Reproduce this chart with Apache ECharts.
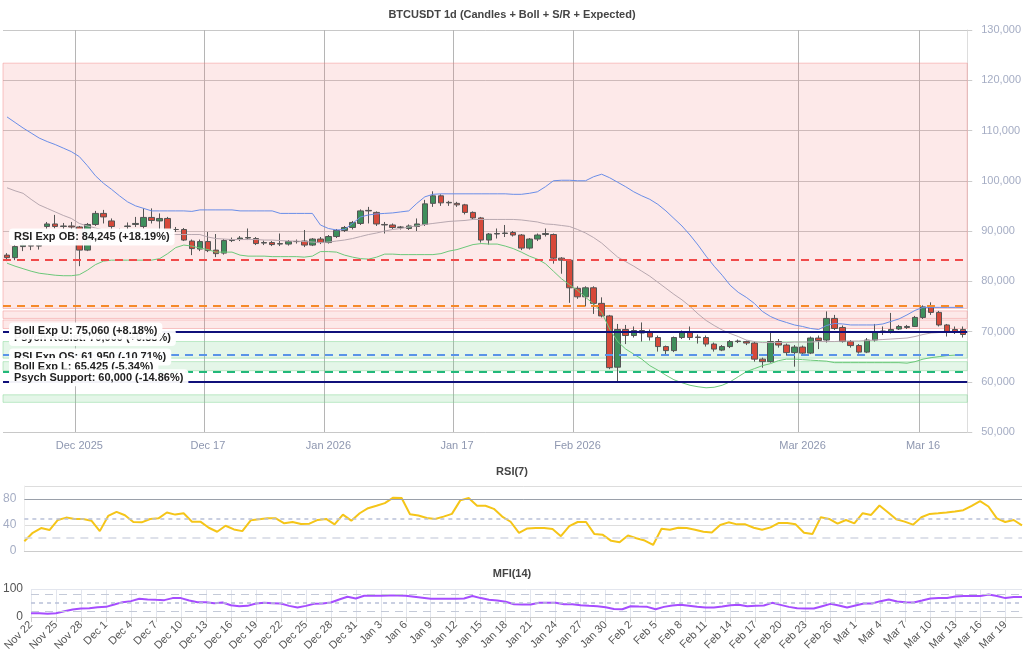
<!DOCTYPE html>
<html><head><meta charset="utf-8">
<script src="https://cdn.jsdelivr.net/npm/echarts@6/dist/echarts.min.js"></script>
<style>html,body{margin:0;padding:0;background:#fff}#c{width:1024px;height:662px}</style>
</head><body><div id="c"></div>
<script>
// [open, close, low, high] in thousands USD, Nov 22 2025 .. Mar 21 2026
const candles = [
[85.2,84.7,84.0,85.6],[84.7,86.9,84.2,87.3],[86.9,87.2,86.0,87.8],[87.1,87.0,86.2,87.7],[87.0,87.1,86.3,87.6],
[90.9,91.4,90.3,91.8],[91.4,90.9,90.5,93.2],[90.9,91.0,90.3,91.6],[91.0,90.8,90.2,91.8],[90.8,86.2,83.0,91.0],
[86.2,91.3,86.0,91.6],[91.3,93.5,91.0,94.0],[93.5,92.8,91.5,94.2],[92.0,90.9,89.5,92.5],[90.0,89.9,89.3,90.5],
[90.9,91.0,90.3,91.7],[91.3,91.5,90.8,92.8],[90.9,92.7,90.5,94.5],[92.7,92.1,91.5,94.5],[92.0,92.5,89.5,93.5],
[92.5,90.2,90.0,92.8],[90.3,90.3,89.8,90.8],[90.3,88.2,88.0,90.6],[88.0,86.5,85.2,88.3],[86.4,87.9,86.0,88.3],
[87.9,86.1,85.8,89.8],[86.2,85.5,84.8,89.4],[85.6,88.1,85.3,88.4],[88.1,88.3,87.8,88.7],[88.4,88.6,88.0,89.0],
[88.6,88.7,88.2,90.5],[88.5,87.5,87.2,88.8],[87.6,87.7,87.2,88.1],[87.7,87.3,87.0,88.0],[87.4,87.5,87.0,89.5],
[87.4,87.9,87.1,88.2],[87.9,87.9,87.5,88.3],[88.0,87.2,86.8,90.2],[87.2,88.4,87.0,88.6],[88.4,87.7,87.4,88.8],
[87.7,88.9,87.5,89.2],[88.9,90.1,88.6,90.4],[90.1,90.7,89.8,91.0],[90.7,91.7,90.3,92.0],[91.5,94.0,91.2,94.3],
[94.0,94.1,91.5,94.8],[93.7,91.4,91.0,93.9],[91.3,91.2,89.5,91.8],[91.2,90.7,90.4,91.5],[90.7,90.8,90.3,91.0],
[90.5,91.0,90.2,91.3],[90.9,91.4,90.0,92.5],[91.3,95.4,91.0,96.2],[95.5,97.0,94.8,97.9],[97.0,95.6,95.0,97.3],
[95.6,95.7,95.0,96.0],[95.5,95.2,94.8,95.8],[95.2,93.7,93.3,95.4],[93.7,92.6,92.2,93.9],[92.6,88.2,87.7,92.8],
[88.2,89.4,87.3,89.6],[89.4,89.5,88.5,90.5],[89.5,89.6,88.8,91.2],[89.7,89.2,88.9,90.0],[89.2,86.6,86.2,89.4],
[86.6,88.4,86.3,88.6],[88.4,89.2,88.0,89.5],[89.3,89.5,88.9,90.5],[89.3,84.6,83.5,89.5],[84.6,84.2,81.5,84.8],
[84.2,78.7,75.7,84.4],[78.6,76.9,76.5,79.0],[76.9,78.7,75.0,79.0],[78.7,75.6,73.5,79.0],[75.6,73.1,72.8,76.8],
[73.1,62.8,62.5,73.3],[62.9,70.4,60.0,71.5],[70.4,69.2,67.5,71.3],[69.2,70.2,68.8,71.0],[70.2,69.7,68.0,71.8],
[69.9,68.9,68.2,70.4],[68.8,67.0,66.0,69.2],[67.0,66.2,65.2,67.2],[66.2,68.8,65.9,69.0],[68.8,69.9,68.5,70.2],
[69.9,68.8,68.3,71.0],[68.8,68.9,67.6,69.4],[68.8,67.5,67.0,69.2],[67.5,66.5,66.0,67.8],[66.3,67.0,66.1,67.3],
[67.0,68.0,66.7,68.3],[68.0,68.1,67.7,68.4],[68.0,67.7,67.3,68.2],[67.7,64.5,64.0,68.0],[64.5,64.0,62.8,64.8],
[64.0,68.0,63.8,69.8],[68.0,67.3,66.8,68.5],[67.3,65.8,65.2,67.6],[65.8,66.9,63.0,67.3],[66.9,65.7,65.3,67.2],
[65.7,68.7,65.5,69.0],[68.7,68.2,66.5,69.2],[68.3,72.6,67.8,74.0],[72.6,70.6,70.3,73.3],[70.8,68.0,67.8,71.2],
[68.0,67.2,66.8,68.3],[67.2,65.9,65.6,67.5],[65.9,68.3,65.7,68.7],[68.3,69.8,68.0,71.5],[70.0,70.1,69.3,71.0],
[70.0,70.4,69.6,73.7],[70.5,71.0,70.3,71.3],[70.8,71.0,70.5,71.3],[71.0,72.8,70.9,73.1],[72.8,74.9,72.5,75.2],
[74.9,73.8,73.3,75.8],[73.8,71.3,71.0,74.1],[71.3,70.0,69.0,71.5],[70.4,70.0,69.5,71.0],[70.4,69.4,68.8,71.0]
];
const bollUpper = [112.7,111.6,110.5,109.5,108.5,107.8,107.2,106.5,105.8,104.8,103.0,101.0,99.5,98.3,97.0,95.8,95.0,94.5,94.0,94.0,
94.0,94.0,94.0,93.9,94.2,94.2,94.2,94.2,94.2,94.0,94.0,94.0,94.0,94.0,93.5,93.5,93.5,93.5,93.5,91.2,
90.5,90.2,90.3,91.5,92.8,93.2,93.4,93.5,93.6,93.8,94.0,95.5,96.8,97.3,97.4,97.4,97.4,97.4,97.4,97.4,
97.4,97.4,97.4,97.3,97.3,97.5,97.8,98.8,100.0,100.1,100.1,100.0,100.0,100.8,101.3,100.6,99.7,98.8,97.8,97.0,
96.3,95.3,94.0,92.5,91.0,89.2,87.2,85.0,83.0,81.2,79.2,77.8,76.8,75.6,74.0,73.0,72.3,71.8,71.3,71.0,
70.6,70.4,71.2,71.6,71.5,71.3,71.3,71.3,71.3,71.5,72.0,72.5,73.3,74.2,74.8,74.8,74.8,74.8,74.8,74.8];
const bollMid = [98.6,98.0,97.5,96.3,95.2,94.5,93.8,93.1,92.5,91.5,91.0,90.6,90.2,90.1,90.0,90.0,90.0,90.0,90.0,89.3,
89.3,89.3,89.3,89.3,89.3,88.8,88.5,88.4,88.3,88.3,88.3,88.3,88.2,88.2,88.1,88.0,88.0,87.9,87.8,87.7,
87.8,88.0,88.2,88.5,88.9,89.3,89.6,90.0,90.3,90.5,90.8,91.0,91.3,91.5,91.7,91.9,92.0,92.1,92.3,92.3,
92.3,92.3,92.3,92.3,92.2,92.0,91.8,91.4,91.3,91.1,90.9,90.3,89.6,88.7,87.6,86.2,84.8,83.9,83.0,82.0,
81.0,79.8,78.6,77.4,76.3,75.0,73.5,72.2,71.2,70.3,69.6,69.0,68.3,68.0,67.8,67.8,67.8,67.8,67.9,67.9,
67.9,68.0,68.0,68.0,68.1,68.1,68.1,68.2,68.3,68.4,68.5,68.6,68.7,69.0,69.4,69.7,69.8,69.9,70.0,70.0];
const bollLower = [83.6,83.0,82.5,82.0,81.6,81.4,81.2,81.1,81.1,81.3,82.2,83.3,84.0,84.2,84.2,84.2,84.2,84.2,84.2,84.5,
85.5,86.7,87.2,87.0,86.6,86.3,85.8,85.8,85.8,85.2,85.0,85.0,85.0,84.9,84.9,84.9,84.9,84.8,85.0,85.9,
85.9,85.8,85.2,84.8,84.5,84.4,84.8,85.4,85.4,85.3,85.3,85.3,85.3,85.3,85.5,86.0,86.3,86.8,87.3,87.5,
87.4,87.4,87.0,86.5,85.8,85.0,84.4,83.5,82.0,80.5,79.3,78.2,76.8,75.5,73.8,70.5,68.0,66.5,65.5,64.5,
63.2,62.3,61.3,60.4,59.8,59.3,59.0,58.8,58.9,59.3,60.0,61.0,62.0,62.6,63.2,63.6,64.2,64.5,64.5,64.4,
64.3,64.2,64.1,63.8,63.8,63.8,63.8,63.8,63.8,63.8,63.8,63.8,63.7,64.0,64.5,64.8,65.0,65.2,65.3,65.4];
const rsi7 = [15.0,28.0,35.3,32.2,47.8,51.4,49.3,49.3,46.7,30.6,53.9,60.2,55.0,44.6,44.1,49.3,50.3,59.2,56.0,58.1,
45.1,45.1,35.8,29.6,38.9,33.2,30.6,47.2,48.8,50.3,50.3,42.6,44.6,41.5,42.0,47.8,49.3,41.0,56.0,46.7,
58.1,65.9,69.6,73.7,82.0,81.5,56.5,54.5,50.8,49.3,52.9,57.1,77.9,81.5,69.6,69.6,64.9,53.0,45.0,28.0,
34.8,35.3,35.3,33.7,22.8,38.4,44.6,44.6,26.0,24.9,15.6,13.5,23.9,19.7,16.1,9.3,34.3,32.7,35.8,35.3,
32.7,29.6,28.5,40.0,44.1,41.0,41.0,35.8,32.7,36.3,43.1,43.1,41.0,28.0,26.0,51.9,49.3,42.0,47.7,42.6,
58.1,55.5,70.0,59.7,48.8,45.2,40.5,51.9,57.1,58.1,59.2,60.7,62.8,69.5,76.8,68.5,50.3,44.6,47.7,39.4];
const mfi14 = [13.3,13.3,12.0,13.3,20.5,26.5,30.1,31.3,34.9,36.2,44.6,53.0,56.6,65.1,62.7,61.4,60.2,67.5,67.5,59.0,
53.0,53.0,49.4,51.8,42.2,38.6,39.8,48.2,50.6,49.4,48.2,39.8,33.7,39.8,47.0,48.2,51.8,62.7,72.3,66.3,
75.9,75.9,75.9,77.1,77.1,75.9,72.3,68.7,65.1,65.1,65.1,65.1,66.3,74.7,67.5,61.4,59.0,54.2,45.8,44.6,
44.6,50.6,50.6,50.6,45.8,45.8,42.2,39.8,38.6,34.9,28.9,27.7,38.6,37.3,36.2,27.7,36.2,41.0,43.4,39.8,
36.2,33.7,33.7,37.3,42.2,43.4,38.6,39.8,41.0,50.6,43.4,36.2,31.3,30.1,30.1,38.6,47.0,41.0,33.7,41.0,
48.2,48.2,56.6,62.7,55.4,53.0,51.8,59.0,66.3,67.5,67.5,73.5,74.7,74.7,74.7,80.7,74.7,67.5,71.1,71.1];
const mainTickIdx = [9,25,40,56,71,99,114];
const mainTickText = ['Dec 2025','Dec 17','Jan 2026','Jan 17','Feb 2026','Mar 2026','Mar 16'];
const levelNames = ['RSI Exp OB','Boll Exp U','Psych Resist','Boll Exp L','RSI Exp OS','Psych Support'];
const levelValues = [84245,75060,70000,65425,61950,60000];
const levelPct = ['+18.19%','+8.18%','+0.88%','-5.34%','-10.71%','-14.86%'];
const redZones = [[74600,123400],[72600,74100],[70600,72300]];
const greenZones = [[64700,68000],[62200,64000],[55900,57400]];

const start = new Date(Date.UTC(2025,10,22));
const months = ['Jan','Feb','Mar','Apr','May','Jun','Jul','Aug','Sep','Oct','Nov','Dec'];
const dates = candles.map((_, i) => { const d = new Date(start.getTime() + i*86400000); return months[d.getUTCMonth()] + ' ' + d.getUTCDate(); });
const K = v => Math.round(v*1000);
const ohlc = candles.map(c => [K(c[0]), K(c[1]), K(c[2]), K(c[3])]);
const bu = bollUpper.map(K), bm = bollMid.map(K), bl = bollLower.map(K);

const lineStyles = {
  'RSI Exp OB': {color:'#f04a4a', type:[8,6], width:2},
  'Boll Exp U': {color:'#f58a2a', type:[8,6], width:2},
  'Psych Resist': {color:'#10107a', type:'solid', width:2},
  'Boll Exp L': {color:'#5a93e8', type:[8,6], width:2},
  'RSI Exp OS': {color:'#22b87a', type:[8,6], width:2},
  'Psych Support': {color:'#10107a', type:'solid', width:2}
};
const labelDy = {'RSI Exp OB':-23,'Boll Exp U':25,'Psych Resist':6,'Boll Exp L':12,'RSI Exp OS':-15,'Psych Support':-4};
const labelOrder = ['RSI Exp OB','Psych Resist','Boll Exp U','RSI Exp OS','Boll Exp L','Psych Support'];
const fmt = v => v.toLocaleString('en-US');

const chart = echarts.init(document.getElementById('c'));
chart.setOption({
  animation:false,
  backgroundColor:'#fff',
  title:[
    {text:'BTCUSDT 1d (Candles + Boll + S/R + Expected)', left:'center', top:4, textStyle:{fontSize:11,fontWeight:'bold',color:'#444'}},
    {text:'RSI(7)', left:'center', top:461, textStyle:{fontSize:11,fontWeight:'bold',color:'#444'}},
    {text:'MFI(14)', left:'center', top:563, textStyle:{fontSize:11,fontWeight:'bold',color:'#444'}}
  ],
  grid:[
    {left:3, right:49, top:30, height:402},
    {left:24, right:2, top:486, height:65},
    {left:30, right:2, top:589, height:28}
  ],
  xAxis:[
    {type:'category', gridIndex:0, data:dates, boundaryGap:true,
     axisLine:{show:false}, axisTick:{show:false},
     axisLabel:{interval:(i)=>mainTickIdx.includes(i), formatter:(v,i)=>mainTickText[mainTickIdx.indexOf(i)]||'', color:'#8e97b0', fontSize:11},
     splitLine:{show:true, interval:(i)=>mainTickIdx.includes(i), lineStyle:{color:'#b5b5b5'}}},
    {type:'category', gridIndex:1, data:dates, boundaryGap:false,
     axisLine:{lineStyle:{color:'#ccc'}}, axisTick:{show:false}, axisLabel:{show:false}},
    {type:'category', gridIndex:2, data:dates, boundaryGap:false,
     axisLine:{lineStyle:{color:'#ccc'}}, axisTick:{show:true, interval:2, lineStyle:{color:'#ccc'}},
     axisLabel:{interval:2, rotate:45, color:'#555', fontSize:11, margin:6},
     splitLine:{show:true, interval:2, lineStyle:{color:'#e3e6ee'}}}
  ],
  yAxis:[
    {type:'value', gridIndex:0, position:'right', min:50000, max:130000, interval:10000,
     axisLine:{show:true, lineStyle:{color:'#ddd'}}, axisTick:{show:true, lineStyle:{color:'#ccc'}},
     axisLabel:{color:'#a5adc4', fontSize:11, margin:14, formatter:v=>fmt(v)},
     splitLine:{lineStyle:{color:'#c8c8c8'}}},
    {type:'value', gridIndex:1, min:0, max:100, interval:40,
     axisLine:{show:true, lineStyle:{color:'#eee'}}, axisLabel:{color:'#a5adc4', fontSize:12, showMaxLabel:false},
     splitLine:{lineStyle:{color:'#ddd'}}},
    {type:'value', gridIndex:2, min:0, max:100, interval:100,
     axisLine:{show:false}, axisLabel:{color:'#555', fontSize:12},
     splitLine:{lineStyle:{color:'#e3e6ee'}}}
  ],
  series:[
    {type:'candlestick', xAxisIndex:0, yAxisIndex:0, data:ohlc, barWidth:6,
     itemStyle:{color:'#3f8f5c', color0:'#d6493a', borderColor:'#555', borderColor0:'#555', borderWidth:1},
     markArea:{silent:true, data:[
       ...redZones.map(z=>[{yAxis:z[0], itemStyle:{color:'rgba(244,120,120,0.16)', borderColor:'rgba(240,130,130,0.45)', borderWidth:1}},{yAxis:z[1]}]),
       ...greenZones.map(z=>[{yAxis:z[0], itemStyle:{color:'rgba(120,210,140,0.2)', borderColor:'rgba(120,210,140,0.45)', borderWidth:1}},{yAxis:z[1]}])
     ]}},
    {type:'line', xAxisIndex:0, yAxisIndex:0, data:bu, symbol:'none', lineStyle:{color:'#6a8ee8', width:1}},
    {type:'line', xAxisIndex:0, yAxisIndex:0, data:bm, symbol:'none', lineStyle:{color:'#b8a8b0', width:1}},
    {type:'line', xAxisIndex:0, yAxisIndex:0, data:bl, symbol:'none', lineStyle:{color:'#6cc87a', width:1},
     markLine:{silent:true, symbol:'none', label:{show:false},
       data:levelNames.map((n,i)=>({yAxis:levelValues[i], lineStyle:lineStyles[n]}))}},
    {type:'custom', xAxisIndex:0, yAxisIndex:0, silent:true, z:10,
     data:labelOrder.map(n=>[0, levelValues[levelNames.indexOf(n)], n]),
     renderItem:(params, api)=>{
       const n = labelOrder[params.dataIndex];
       const i = levelNames.indexOf(n);
       const p = api.coord([0, levelValues[i]]);
       return {type:'text', x:p[0]+2, y:p[1]+labelDy[n], style:{
         text:n+': '+fmt(levelValues[i])+' ('+levelPct[i]+')', fill:'#222', font:'bold 11px sans-serif',
         verticalAlign:'middle', backgroundColor:'rgba(255,255,255,0.95)', padding:[3,5], borderRadius:4}};
     }},
    {type:'line', xAxisIndex:1, yAxisIndex:1, data:rsi7, symbol:'none', lineStyle:{color:'#f5c518', width:2},
     markLine:{silent:true, symbol:'none', label:{show:false}, data:[
       {yAxis:80, lineStyle:{color:'#9aa0aa', type:'solid', width:1}},
       {yAxis:50, lineStyle:{color:'#b8c0d8', type:[4,4], width:1.5}},
       {yAxis:20, lineStyle:{color:'#d4d8e4', type:[8,6], width:1.5}}]}},
    {type:'line', xAxisIndex:2, yAxisIndex:2, data:mfi14, symbol:'none', lineStyle:{color:'#a64dff', width:2},
     markLine:{silent:true, symbol:'none', label:{show:false}, data:[
       {yAxis:80, lineStyle:{color:'#c4cad8', type:[8,6], width:1.2}},
       {yAxis:50, lineStyle:{color:'#b8c0d8', type:[4,4], width:1.5}},
       {yAxis:20, lineStyle:{color:'#c4cad8', type:[8,6], width:1.2}}]}}
  ]
});
</script></body></html>
